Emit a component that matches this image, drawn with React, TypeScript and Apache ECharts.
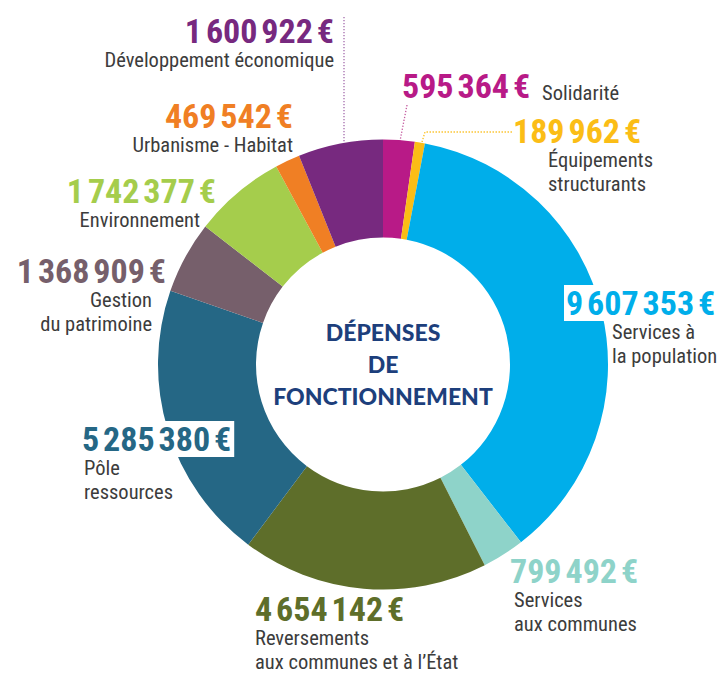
import React, { useEffect, useRef } from 'react';
import * as echarts from 'echarts';

const categories = [
  'Solidarité',
  'Équipements\nstructurants',
  'Services à\nla population',
  'Services\naux communes',
  'Reversements\naux communes et à l’État',
  'Pôle\nressources',
  'Gestion\ndu patrimoine',
  'Environnement',
  'Urbanisme - Habitat',
  'Développement économique',
];
const values = [595364, 189962, 9607353, 799492, 4654142, 5285380, 1368909, 1742377, 469542, 1600922];
const colors = ['#b81a87', '#fbbd16', '#00aeea', '#8ed3c9', '#5e6e2a', '#256785', '#765f6b', '#a5cd4c', '#f07f24', '#77297f'];
const centerTitle = ['DÉPENSES', 'DE', 'FONCTIONNEMENT'];

// label anchor: x, y (top of block), alignment, name indent
const labelAnchors: [number, number, 'left' | 'right', number][] = [
  [402, 69, 'left', 0],
  [513, 114, 'left', 35],
  [564, 286, 'left', 48],
  [510, 554, 'left', 4],
  [255, 592, 'left', 0],
  [80, 422, 'left', 4],
  [166, 254, 'right', 14],
  [216, 174, 'right', 16],
  [293, 99, 'right', 0],
  [334, 14, 'right', 0],
];
const whiteBg = [false, false, true, false, false, true, false, false, false, false];

const fmt = (n: number) => n.toString().replace(/\B(?=(\d{3})+(?!\d))/g, '\u202F') + '\u202F€';

const VALUE_FONT = "'Roboto Condensed', 'Open Sans Condensed', sans-serif";
const NAME_FONT = "'Roboto Condensed', 'Open Sans Condensed', sans-serif";

export default function App() {
  const ref = useRef<HTMLDivElement>(null);
  useEffect(() => {
    if (!ref.current) return;
    const chart = echarts.init(ref.current, undefined, { renderer: 'svg' });
    const data = categories.map((name, i) => {
      const a = labelAnchors[i];
      const pad = a[3];
      const namePad = a[2] === 'left' ? [0, 0, 0, pad] : [0, pad, 0, 0];
      const inline = i === 0;
      const lines = name.split('\n').map((l) => `{n|${l}}`);
      const formatted = inline
        ? `{v|${fmt(values[i])}}{s|${name}}`
        : `{v|${fmt(values[i])}}\n` + lines.join('\n');
      return {
        name: name.replace(/\n/g, ' '),
        value: values[i],
        itemStyle: { color: colors[i] },
        label: {
          formatter: formatted,
          rich: {
            v: {
              fontFamily: VALUE_FONT,
              fontWeight: 'bold',
              fontSize: 34,
              lineHeight: 34,
              color: colors[i],
              backgroundColor: whiteBg[i] ? '#ffffff' : 'transparent',
              padding: whiteBg[i] ? [1, 3, 1, 2] : 0,
            },
            n: {
              fontFamily: NAME_FONT,
              fontSize: 20.5,
              lineHeight: 24,
              color: '#3c3c3c',
              padding: namePad,
            },
            s: {
              fontFamily: NAME_FONT,
              fontSize: 20.5,
              lineHeight: 24,
              color: '#3c3c3c',
              padding: [0, 0, 0, 12],
              verticalAlign: 'bottom',
            },
          },
        },
      };
    });
    chart.setOption({
      animation: false,
      backgroundColor: '#ffffff',
      series: [
        {
          type: 'pie',
          center: [383, 364.5],
          radius: [127, 225],
          startAngle: 90,
          clockwise: true,
          avoidLabelOverlap: false,
          silent: true,
          label: { show: true, position: 'outside' },
          labelLine: { show: false },
          labelLayout: (p: any) => {
            const a = labelAnchors[p.dataIndex];
            return { x: a[0], y: a[1], align: a[2], verticalAlign: 'top' };
          },
          data,
        },
      ],
      graphic: [
        {
          type: 'text',
          x: 383,
          y: 364,
          style: {
            text: centerTitle.join('\n'),
            fill: '#1d3f7c',
            font: "900 23px Lato, 'DejaVu Sans', sans-serif",
            align: 'center',
            verticalAlign: 'middle',
            lineHeight: 32,
          },
        },
        {
          type: 'polyline',
          shape: { points: [[344, 17], [344, 143]] },
          style: { stroke: '#a46aac', lineWidth: 1.3, lineDash: [1.3, 1.7], fill: 'none' },
        },
        {
          type: 'polyline',
          shape: { points: [[407, 105], [400, 141]] },
          style: { stroke: '#c45a9f', lineWidth: 1.3, lineDash: [1.3, 1.7], fill: 'none' },
        },
        {
          type: 'polyline',
          shape: { points: [[422, 142], [425, 132], [512, 132]] },
          style: { stroke: '#fbbd16', lineWidth: 1.3, lineDash: [1.3, 1.7], fill: 'none' },
        },
      ],
    });
    return () => chart.dispose();
  }, []);
  return <div ref={ref} style={{ position: 'fixed', left: 0, top: 0, width: 722, height: 673 }} />;
}
